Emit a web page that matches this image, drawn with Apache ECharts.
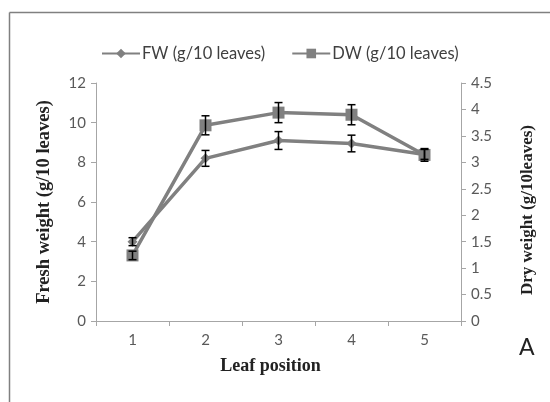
<!DOCTYPE html>
<html><head><meta charset="utf-8">
<script src="https://cdn.jsdelivr.net/npm/echarts@6/dist/echarts.min.js"></script>
<style>html,body{margin:0;padding:0;background:#fff}#c{width:550px;height:402px}</style>
</head><body><div id="c"></div>
<script>
const categories = ['1','2','3','4','5'];
const fwValues = [4.0, 8.2, 9.1, 8.95, 8.4];
const fwErrors = [0.2, 0.4, 0.45, 0.42, 0.25];
const dwValues = [1.24, 3.70, 3.94, 3.90, 3.14];
const dwErrors = [0.08, 0.18, 0.19, 0.19, 0.12];
const leftTicks = {min: 0, max: 12, interval: 2};
const rightTicks = {min: 0, max: 4.5, interval: 0.5};

const chart = echarts.init(document.getElementById('c'), null, {renderer: 'canvas'});
const lineColor = '#808080';
const axisColor = '#a6a6a6';
const labelColor = '#595959';
const sans = 'Lato, "Liberation Sans", sans-serif';
const serif = '"Liberation Serif", "DejaVu Serif", serif';

function errSeries(name, values, errors, yIdx) {
  return {
    name: name, type: 'custom', yAxisIndex: yIdx, z: 5,
    data: values.map((v, i) => [i, v - errors[i], v + errors[i]]),
    renderItem: function (params, api) {
      const x = api.value(0);
      const lo = api.coord([x, api.value(1)]);
      const hi = api.coord([x, api.value(2)]);
      const w = 4;
      const st = {stroke: '#000', lineWidth: 1.5};
      return {type: 'group', children: [
        {type: 'line', shape: {x1: lo[0], y1: lo[1], x2: hi[0], y2: hi[1]}, style: st},
        {type: 'line', shape: {x1: lo[0]-w, y1: lo[1], x2: lo[0]+w, y2: lo[1]}, style: st},
        {type: 'line', shape: {x1: hi[0]-w, y1: hi[1], x2: hi[0]+w, y2: hi[1]}, style: st}
      ]};
    },
    silent: true
  };
}

chart.setOption({
  animation: false,
  backgroundColor: '#fff',
  grid: {left: 96, right: 89, top: 83, bottom: 81, containLabel: false},
  legend: {
    top: 40, left: 96, itemGap: 26, itemWidth: 38, itemHeight: 12,
    textStyle: {fontFamily: sans, fontSize: 16.5, color: '#404040', padding: [0, 0, 0, -3]},
    data: ['FW (g/10 leaves)', 'DW (g/10 leaves)']
  },
  xAxis: {
    type: 'category', data: categories,
    name: 'Leaf position', nameLocation: 'middle', nameGap: 36,
    nameTextStyle: {fontFamily: serif, fontWeight: 'bold', fontSize: 18, color: '#222', padding: [0, 16, 0, 0]},
    axisLine: {lineStyle: {color: axisColor, width: 1}},
    axisTick: {show: true, length: 5, lineStyle: {color: axisColor}},
    axisLabel: {fontFamily: sans, fontSize: 15, color: labelColor, margin: 12},
    splitLine: {show: false}
  },
  yAxis: [
    {
      type: 'value', min: leftTicks.min, max: leftTicks.max, interval: leftTicks.interval,
      name: 'Fresh weight (g/10 leaves)', nameLocation: 'middle', nameGap: 42, nameRotate: 90,
      nameTextStyle: {fontFamily: serif, fontWeight: 'bold', fontSize: 18.5, color: '#222'},
      axisLine: {show: true, lineStyle: {color: axisColor}},
      axisTick: {show: true, length: 5, lineStyle: {color: axisColor}},
      axisLabel: {fontFamily: sans, fontSize: 15, color: labelColor, margin: 10},
      splitLine: {show: false}
    },
    {
      type: 'value', position: 'right', min: rightTicks.min, max: rightTicks.max, interval: rightTicks.interval,
      name: 'Dry weight (g/10leaves)', nameLocation: 'middle', nameGap: 58, nameRotate: 90,
      nameTextStyle: {fontFamily: serif, fontWeight: 'bold', fontSize: 17, color: '#222', padding: [0, 16, 0, 0]},
      axisLine: {show: true, lineStyle: {color: axisColor}},
      axisTick: {show: true, length: 5, lineStyle: {color: axisColor}},
      axisLabel: {fontFamily: sans, fontSize: 15, color: labelColor, margin: 10},
      splitLine: {show: false}
    }
  ],
  series: [
    {
      name: 'FW (g/10 leaves)', type: 'line', yAxisIndex: 0, data: fwValues,
      symbol: 'diamond', symbolSize: 10, z: 3,
      lineStyle: {color: lineColor, width: 3.5}, itemStyle: {color: lineColor}
    },
    {
      name: 'DW (g/10 leaves)', type: 'line', yAxisIndex: 1, data: dwValues,
      symbol: 'rect', symbolSize: 12, z: 4,
      lineStyle: {color: lineColor, width: 3.5}, itemStyle: {color: lineColor}
    },
    errSeries('FW err', fwValues, fwErrors, 0),
    errSeries('DW err', dwValues, dwErrors, 1)
  ],
  graphic: [
    {type: 'line', shape: {x1: 9.5, y1: 12.5, x2: 9.5, y2: 402}, style: {stroke: '#808080', lineWidth: 1.5}},
    {type: 'line', shape: {x1: 9.5, y1: 12.5, x2: 550, y2: 12.5}, style: {stroke: '#808080', lineWidth: 1.5}},
    {type: 'text', left: 519, top: 336, style: {text: 'A', font: '23px ' + sans, fill: '#222'}}
  ]
});
</script></body></html>
